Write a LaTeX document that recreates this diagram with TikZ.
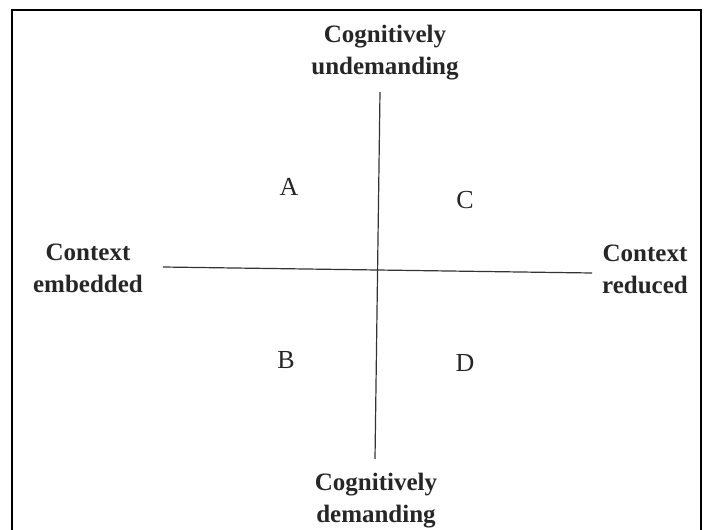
\documentclass[tikz,border=0pt]{standalone}
\usepackage{fontspec}
\setmainfont{Liberation Serif}
\usetikzlibrary{calc}
\tikzset{
    axislabel/.style = {align = center, font = \fontsize{25}{32}\selectfont\bfseries, text = black!85},
    quadrant/.style = {font = \fontsize{26}{30}\selectfont, text = black!85},
    axis/.style = {line width = 1.2pt, draw = black!80}
}

\begin{document}
\begin{tikzpicture}[x = 1pt, y = -1pt]
            \useasboundingbox (0, 0) rectangle (704, 530);

            \coordinate (fa) at (12, 530);
            \coordinate (fb) at (12, 10);
            \coordinate (fc) at (701, 10);
            \coordinate (fd) at (701, 530);
            \draw [line width = 1.6pt] (fa) -- (fb) -- (fc) -- (fd);

            \coordinate (vtop) at (380, 92);
            \coordinate (vbot) at (375, 459);
            \coordinate (hleft) at (163, 267);
            \coordinate (hright) at (592, 273);

            \draw [axis] (vtop) -- (vbot);
            \draw [axis] (hleft) -- (hright);

            \node [axislabel] (cogund) at (385, 53) {Cognitively\\undemanding};
            \node [axislabel] (cogdem) at (376, 501) {Cognitively\\demanding};
            \node [axislabel] (ctxemb) at (88, 268) {Context\\embedded};
            \node [axislabel] (ctxred) at (645, 269) {Context\\reduced};

            \node [quadrant] (qa) at (289, 187) {A};
            \node [quadrant] (qb) at (286, 360) {B};
            \node [quadrant] (qc) at (465, 200) {C};
            \node [quadrant] (qd) at (465, 363) {D};
        \end{tikzpicture}
\end{document}
